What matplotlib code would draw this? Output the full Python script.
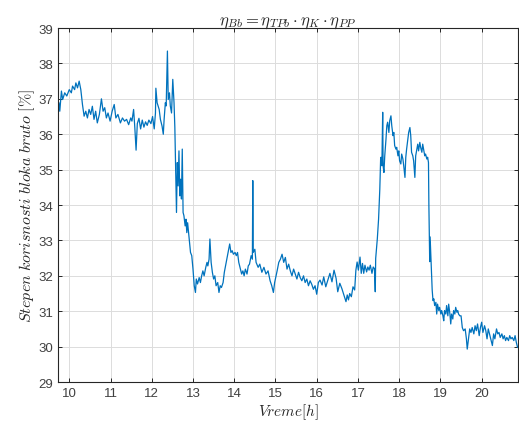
import matplotlib
matplotlib.use('Agg')
import matplotlib.pyplot as plt
import numpy as np

# time [h] and gross unit efficiency [%]
t = [9.73, 9.75, 9.77, 9.81, 9.84, 9.89, 9.94, 10.0, 10.05, 10.08, 10.13, 10.16, 10.2, 10.24, 10.28,
     10.32, 10.36, 10.4, 10.44, 10.48, 10.52, 10.56, 10.6, 10.64, 10.68, 10.73, 10.78, 10.82, 10.86,
     10.9, 10.94, 10.99, 11.04, 11.09, 11.13, 11.18, 11.24, 11.29, 11.34, 11.39, 11.44, 11.49, 11.52,
     11.56, 11.59, 11.62, 11.65, 11.69, 11.73, 11.77, 11.81, 11.85, 11.89, 11.93, 11.98, 12.02, 12.06,
     12.09, 12.1, 12.13, 12.18, 12.21, 12.25, 12.28, 12.3, 12.33, 12.35, 12.38, 12.4, 12.43, 12.45,
     12.48, 12.51, 12.54, 12.56, 12.58, 12.6, 12.62, 12.64, 12.66, 12.68, 12.7, 12.72, 12.74, 12.76,
     12.78, 12.81, 12.83, 12.85, 12.87, 12.9, 12.94, 12.97, 13.0, 13.03, 13.06, 13.08, 13.11, 13.15,
     13.18, 13.21, 13.24, 13.27, 13.31, 13.34, 13.36, 13.39, 13.41, 13.44, 13.47, 13.5, 13.53, 13.56,
     13.6, 13.63, 13.66, 13.69, 13.73, 13.76, 13.79, 13.82, 13.85, 13.89, 13.92, 13.95, 13.98, 14.02,
     14.05, 14.08, 14.11, 14.15, 14.18, 14.21, 14.24, 14.27, 14.31, 14.34, 14.37, 14.41, 14.44, 14.45,
     14.46, 14.5, 14.53, 14.58, 14.62, 14.67, 14.72, 14.77, 14.82, 14.87, 14.91, 14.95, 14.98, 15.04,
     15.08, 15.12, 15.16, 15.2, 15.24, 15.28, 15.32, 15.36, 15.4, 15.44, 15.48, 15.52, 15.56, 15.6,
     15.64, 15.68, 15.72, 15.76, 15.8, 15.84, 15.88, 15.92, 15.96, 16.0, 16.04, 16.08, 16.13, 16.17,
     16.22, 16.27, 16.32, 16.37, 16.42, 16.47, 16.51, 16.56, 16.61, 16.66, 16.71, 16.74, 16.77, 16.8,
     16.84, 16.88, 16.92, 16.95, 16.98, 17.01, 17.05, 17.08, 17.11, 17.14, 17.17, 17.21, 17.24, 17.27,
     17.3, 17.34, 17.37, 17.4, 17.42, 17.43, 17.47, 17.5, 17.53, 17.55, 17.56, 17.58, 17.6, 17.61,
     17.63, 17.65, 17.68, 17.7, 17.72, 17.75, 17.77, 17.8, 17.82, 17.85, 17.87, 17.89, 17.92, 17.94,
     17.97, 17.99, 18.01, 18.04, 18.06, 18.09, 18.11, 18.14, 18.16, 18.18, 18.21, 18.23, 18.26, 18.28,
     18.3, 18.33, 18.35, 18.38, 18.4, 18.43, 18.45, 18.47, 18.5, 18.52, 18.55, 18.57, 18.6, 18.62,
     18.64, 18.67, 18.69, 18.71, 18.72, 18.73, 18.74, 18.75, 18.76, 18.78, 18.8, 18.82, 18.84, 18.86,
     18.89, 18.91, 18.93, 18.96, 18.98, 19.01, 19.03, 19.06, 19.08, 19.1, 19.13, 19.15, 19.18, 19.2,
     19.23, 19.25, 19.27, 19.3, 19.32, 19.35, 19.37, 19.4, 19.42, 19.44, 19.47, 19.5, 19.53, 19.56,
     19.6, 19.63, 19.65, 19.68, 19.71, 19.74, 19.77, 19.81, 19.84, 19.87, 19.9, 19.94, 19.97, 20.0,
     20.03, 20.07, 20.1, 20.13, 20.16, 20.19, 20.23, 20.26, 20.29, 20.32, 20.36, 20.39, 20.42, 20.45,
     20.49, 20.52, 20.55, 20.58, 20.61, 20.65, 20.68, 20.71, 20.74, 20.78, 20.81, 20.84, 20.87]
eta = [36.7, 36.89, 36.65, 37.22, 36.98, 37.17, 37.08, 37.26, 37.17, 37.36, 37.26, 37.45, 37.31, 37.5, 37.26,
       36.84, 36.51, 36.65, 36.46, 36.7, 36.56, 36.79, 36.42, 36.65, 36.32, 36.56, 37.0, 36.65, 36.75,
       36.46, 36.6, 36.37, 36.65, 36.84, 36.46, 36.56, 36.32, 36.46, 36.37, 36.42, 36.27, 36.46, 36.37,
       36.7, 36.18, 35.55, 36.3, 36.45, 36.15, 36.4, 36.2, 36.35, 36.25, 36.4, 36.3, 36.5, 36.15,
       36.6, 37.3, 36.89, 36.7, 36.42, 36.23, 36.0, 36.42, 36.89, 36.8, 38.35, 36.98, 37.17, 36.8,
       36.6, 37.55, 36.89, 36.2, 35.0, 33.79, 35.2, 34.54, 35.53, 34.26, 34.73, 34.17, 35.58, 33.79,
       33.7, 33.41, 33.6, 33.22, 33.5, 33.13, 32.66, 32.57, 32.19, 31.72, 31.53, 31.91, 31.77, 31.95,
       31.81, 32.0, 32.14, 32.0, 32.24, 32.38, 32.28, 32.47, 33.04, 32.38, 32.1, 31.91, 32.0, 31.72,
       31.81, 31.53, 31.72, 31.67, 31.81, 32.1, 32.28, 32.47, 32.66, 32.9, 32.66, 32.71, 32.61, 32.66,
       32.57, 32.66, 32.38, 32.19, 32.05, 32.14, 32.0, 32.19, 32.05, 32.28, 32.33, 32.57, 32.47, 34.69,
       32.66, 32.75, 32.38, 32.24, 32.33, 32.1, 32.24, 32.05, 32.14, 31.86, 31.72, 31.53, 31.81, 32.14,
       32.38, 32.47, 32.61, 32.38, 32.52, 32.19, 32.33, 32.14, 32.0, 32.19, 32.05, 31.91, 32.1, 31.95,
       31.86, 32.0, 31.81, 31.91, 31.72, 31.86, 31.76, 31.62, 31.72, 31.48, 31.81, 31.88, 31.74, 31.97,
       31.69, 31.88, 32.07, 31.83, 32.16, 31.93, 31.55, 31.79, 31.64, 31.46, 31.27, 31.46, 31.32, 31.5,
       31.41, 31.69, 31.6, 32.16, 32.39, 32.16, 32.53, 32.07, 32.35, 32.07, 32.3, 32.11, 32.25, 32.16,
       32.3, 32.07, 32.25, 32.2, 31.55, 32.49, 33.05, 33.6, 34.45, 35.3, 35.35, 35.11, 36.62, 35.11,
       34.92, 35.39, 35.86, 36.24, 36.34, 36.05, 36.38, 36.52, 36.24, 35.96, 36.05, 35.68, 35.58, 35.63,
       35.39, 35.53, 35.25, 35.16, 35.44, 35.3, 35.11, 34.78, 35.35, 35.58, 35.86, 36.05, 36.19, 35.96,
       35.49, 35.39, 35.25, 34.78, 35.39, 35.58, 35.72, 35.53, 35.77, 35.63, 35.49, 35.72, 35.53, 35.39,
       35.44, 35.3, 35.35, 35.2, 34.0, 33.2, 32.4, 33.1, 32.8, 32.2, 31.6, 31.3, 31.35, 31.16,
       31.25, 30.92, 31.2, 31.02, 31.11, 30.92, 31.02, 30.87, 30.73, 31.02, 30.92, 31.16, 30.87, 31.2,
       30.92, 30.64, 30.92, 30.78, 31.02, 30.92, 31.11, 30.97, 31.02, 30.92, 30.87, 30.87, 30.54, 30.45,
       30.5, 30.22, 29.93, 30.22, 30.5, 30.4, 30.54, 30.36, 30.59, 30.45, 30.64, 30.31, 30.54, 30.69,
       30.4, 30.59, 30.45, 30.22, 30.5, 30.36, 30.17, 30.03, 30.36, 30.22, 30.5, 30.36, 30.4, 30.26,
       30.36, 30.22, 30.31, 30.17, 30.26, 30.17, 30.31, 30.22, 30.26, 30.17, 30.31, 30.12, 29.98]
xticks = [10, 11, 12, 13, 14, 15, 16, 17, 18, 19, 20]
yticks = [29, 30, 31, 32, 33, 34, 35, 36, 37, 38, 39]

plt.rcParams['mathtext.fontset'] = 'cm'
plt.rcParams['font.family'] = ['Liberation Sans', 'DejaVu Sans']

fig = plt.figure(figsize=(5.19, 4.27), dpi=100)
ax = fig.add_axes([0.112, 0.103, 0.886, 0.829])
ax.plot(t, eta, '-', color='#0072BD', lw=0.9)

ax.set_xlim(9.73, 20.88)
ax.set_ylim(29, 39)
ax.set_xticks(xticks)
ax.set_yticks(yticks)
ax.grid(True, color='#dcdcdc', lw=0.7)
ax.set_axisbelow(True)
ax.tick_params(direction='in', top=True, right=True, length=3, width=0.7,
               labelsize=9.5, colors='#262626', labelcolor='#404040')
for s in ax.spines.values():
    s.set_color('#262626')
    s.set_linewidth(0.8)

ax.set_title(r'$\eta_{Bb} = \eta_{TPb} \cdot \eta_K \cdot \eta_{PP}$', fontsize=12, pad=3, color='#262626')
ax.set_xlabel(r'$Vreme[h]$', fontsize=11, labelpad=2, color='#262626')
ax.set_ylabel(r'$Stepen\ korisnosti\ bloka\ bruto\ [\%]$', fontsize=11.5, labelpad=1, color='#262626')

plt.savefig('out.png', dpi=100)
